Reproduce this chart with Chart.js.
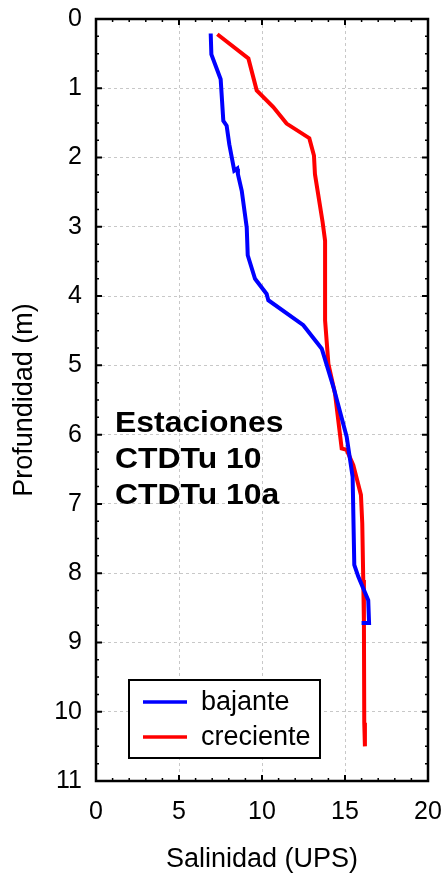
<!DOCTYPE html>
<html>
<head>
<meta charset="utf-8">
<script src="https://cdn.jsdelivr.net/npm/chart.js@4"></script>
<style>
  html, body { margin: 0; padding: 0; background: #fff; }
  #wrap { width: 444px; height: 876px; }
</style>
</head>
<body>
<div id="wrap"><canvas id="perfil" width="444" height="876"></canvas></div>
<script>
// Perfil bajante (salinidad, profundidad)
const bajanteSal = [6.91, 6.95, 7.51, 7.67, 7.87, 8.03, 8.33, 8.51, 8.55, 8.78, 9.08, 9.14, 9.58, 10.28, 10.38, 12.49, 13.6, 14.3, 15.1, 15.46, 15.56, 15.8, 16.4, 16.45, 16.0];
const bajanteProf = [0.21, 0.51, 0.87, 1.47, 1.54, 1.81, 2.19, 2.16, 2.24, 2.48, 3.01, 3.41, 3.75, 3.97, 4.06, 4.42, 4.76, 5.31, 6.03, 6.61, 7.88, 8.05, 8.39, 8.72, 8.72];
// Perfil creciente
const crecienteSal = [7.31, 9.18, 9.68, 10.68, 11.48, 12.85, 13.13, 13.19, 13.65, 13.8, 13.8, 13.8, 14.0, 14.4, 14.8, 15.1, 15.5, 15.96, 16.04, 16.1, 16.14, 16.16, 16.2];
const crecienteProf = [0.22, 0.57, 1.03, 1.27, 1.51, 1.72, 1.97, 2.24, 2.93, 3.2, 4.02, 4.35, 4.98, 5.41, 6.2, 6.22, 6.44, 6.87, 7.28, 8.1, 8.72, 10.16, 10.5];

const seriesLabels = ["bajante", "creciente"];
const seriesColors = ["#0000ff", "#ff0000"];
const notaLineas = ["Estaciones", "CTDTu 10", "CTDTu 10a"];
const xTicks = [0, 5, 10, 15, 20];
const yTicks = [0, 1, 2, 3, 4, 5, 6, 7, 8, 9, 10, 11];

const FONT = "'Liberation Sans', Arial, sans-serif";

function toPoints(xs, ys) {
    return xs.map((x, i) => ({ x: x, y: ys[i] }));
}

// Marco, marcas hacia dentro, nota y leyenda
const marcoPlugin = {
    id: "marco",
    afterDraw(chart) {
        const ctx = chart.ctx;
        const a = chart.chartArea;
        const xs = chart.scales.x, ys = chart.scales.y;
        ctx.save();
        ctx.strokeStyle = "#000";
        // marcas menores
        ctx.lineWidth = 1.5;
        for (let v = 0; v <= 20; v += 1) {
            if (v % 5 === 0) continue;
            const px = xs.getPixelForValue(v);
            ctx.beginPath();
            ctx.moveTo(px, a.top); ctx.lineTo(px, a.top + 3);
            ctx.moveTo(px, a.bottom); ctx.lineTo(px, a.bottom - 3);
            ctx.stroke();
        }
        for (let v = 0; v <= 11; v += 0.25) {
            if (v % 1 === 0) continue;
            const py = ys.getPixelForValue(v);
            ctx.beginPath();
            ctx.moveTo(a.left, py); ctx.lineTo(a.left + 3, py);
            ctx.moveTo(a.right, py); ctx.lineTo(a.right - 3, py);
            ctx.stroke();
        }
        // marcas mayores
        ctx.lineWidth = 2;
        xTicks.forEach(v => {
            const px = xs.getPixelForValue(v);
            ctx.beginPath();
            ctx.moveTo(px, a.top); ctx.lineTo(px, a.top + 6);
            ctx.moveTo(px, a.bottom); ctx.lineTo(px, a.bottom - 6);
            ctx.stroke();
        });
        yTicks.forEach(v => {
            const py = ys.getPixelForValue(v);
            ctx.beginPath();
            ctx.moveTo(a.left, py); ctx.lineTo(a.left + 6, py);
            ctx.moveTo(a.right, py); ctx.lineTo(a.right - 6, py);
            ctx.stroke();
        });
        // marco
        ctx.lineWidth = 2.5;
        ctx.strokeRect(a.left, a.top, a.right - a.left, a.bottom - a.top);

        // nota (texto algo ensanchado, como en el original)
        ctx.fillStyle = "#000";
        ctx.font = "bold 29px " + FONT;
        ctx.textBaseline = "alphabetic";
        ctx.textAlign = "left";
        notaLineas.forEach((t, i) => {
            ctx.save();
            ctx.translate(115, 432 + i * 36.2);
            ctx.scale(1.1, 1);
            ctx.fillText(t, 0, 0);
            ctx.restore();
        });

        // leyenda
        ctx.fillStyle = "#fff";
        ctx.fillRect(129, 680, 191, 78);
        ctx.lineWidth = 2;
        ctx.strokeStyle = "#000";
        ctx.strokeRect(129, 680, 191, 78);
        ctx.font = "27px " + FONT;
        ctx.textBaseline = "middle";
        chart.data.datasets.forEach((ds, i) => {
            const cy = 702 + i * 35;
            ctx.strokeStyle = ds.borderColor;
            ctx.lineWidth = 3.5;
            ctx.beginPath();
            ctx.moveTo(143, cy); ctx.lineTo(187, cy);
            ctx.stroke();
            ctx.fillStyle = "#000";
            ctx.fillText(ds.label, 201, cy + 1);
        });
        ctx.restore();
    }
};

const ctx = document.getElementById("perfil").getContext("2d");
new Chart(ctx, {
    type: "line",
    data: {
        datasets: [
            {
                label: seriesLabels[0],
                data: toPoints(bajanteSal, bajanteProf),
                borderColor: seriesColors[0],
                borderWidth: 4,
                pointRadius: 0,
                tension: 0,
                fill: false
            },
            {
                label: seriesLabels[1],
                data: toPoints(crecienteSal, crecienteProf),
                borderColor: seriesColors[1],
                borderWidth: 4,
                pointRadius: 0,
                tension: 0,
                fill: false
            }
        ]
    },
    options: {
        responsive: false,
        animation: false,
        layout: { padding: { top: 19, right: 16, bottom: 0, left: 0 } },
        plugins: { legend: { display: false }, tooltip: { enabled: false } },
        scales: {
            x: {
                type: "linear",
                position: "bottom",
                min: 0,
                max: 20,
                afterBuildTicks: s => { s.ticks = xTicks.map(v => ({ value: v })); },
                afterFit: s => { s.height = 95; s.paddingLeft = 0; s.paddingRight = 0; },
                grid: { color: "#c8c8c8", lineWidth: 1, drawTicks: false },
                border: { display: false, dash: [3, 3] },
                ticks: { color: "#000", font: { family: FONT, size: 25 }, padding: 16, maxRotation: 0 },
                title: { display: true, text: "Salinidad (UPS)", color: "#000", font: { family: FONT, size: 27 }, padding: { top: 0, bottom: 0 } }
            },
            y: {
                type: "linear",
                reverse: true,
                min: 0,
                max: 11,
                afterBuildTicks: s => { s.ticks = yTicks.map(v => ({ value: v })); },
                afterFit: s => { s.width = 96; s.paddingTop = 0; s.paddingBottom = 0; },
                grid: { color: "#c8c8c8", lineWidth: 1, drawTicks: false },
                border: { display: false, dash: [3, 3] },
                ticks: { color: "#000", font: { family: FONT, size: 25 }, padding: 14 },
                title: { display: true, text: "Profundidad (m)", color: "#000", font: { family: FONT, size: 27 }, padding: { top: 8, bottom: 0 } }
            }
        }
    },
    plugins: [marcoPlugin]
});
</script>
</body>
</html>
